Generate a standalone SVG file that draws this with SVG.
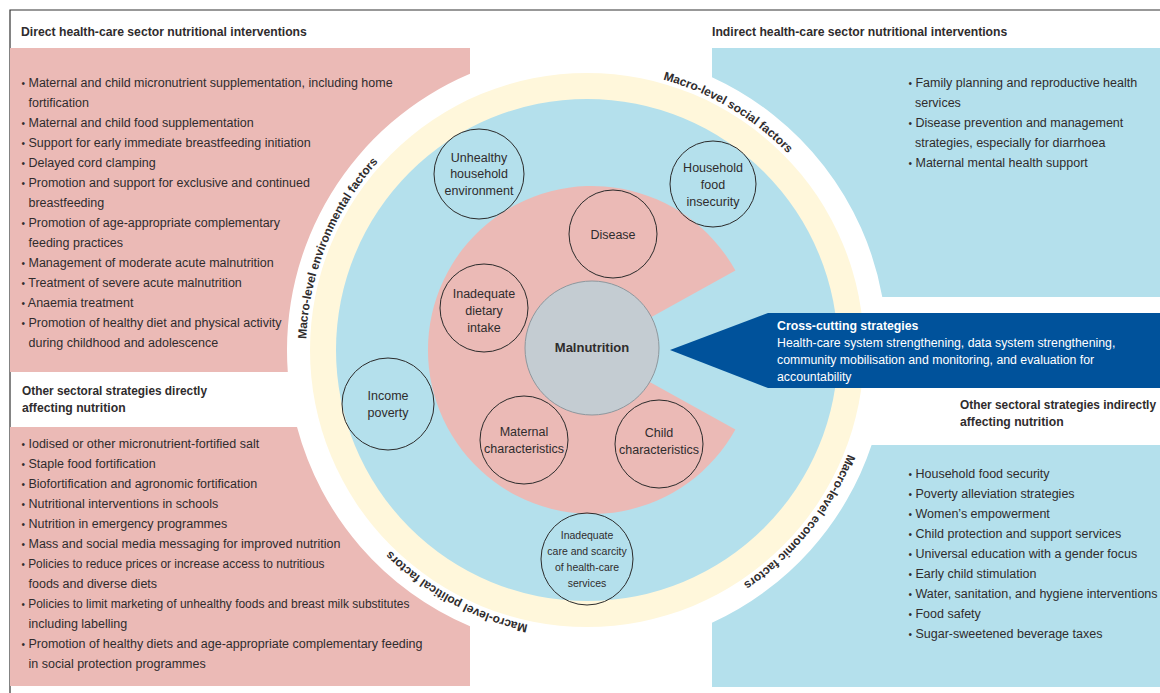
<svg xmlns="http://www.w3.org/2000/svg" width="1160" height="693" viewBox="0 0 1160 693">
<defs>
<style>
text{font-family:"Liberation Sans",Arial,sans-serif;fill:#2f2c2d}
.b{font-size:12.5px}
.d{font-size:10px}
.h{font-size:12.2px;font-weight:bold}
.n{font-size:12.5px;text-anchor:middle}
.s{font-size:10.5px;text-anchor:middle}
.arc{font-size:12px;font-weight:bold;text-anchor:middle}
.pink{fill:#EBBAB6}
.blue{fill:#B4E0EC}
.node{fill:none;stroke:#2b2b2b;stroke-width:1}
.wt{font-size:12.3px;fill:#fff}
</style>
<path id="ringpath" d="M868,350 A281 281 0 1 1 306,350 A281 281 0 1 1 868,350"/>
</defs>
<rect width="1160" height="693" fill="#fff"/>
<path d="M10,693 V10 H1160" fill="none" stroke="#333" stroke-width="1.2"/>

<g id="panels">
<path class="pink" d="M10,48 H470 V73.8 A300 300 0 0 0 287.8,372 H10 Z"/>
<path class="pink" d="M10,427 H297 A300 300 0 0 0 470,626.2 V686 H10 Z"/>
<path class="blue" d="M712,48 H1160 V297 H882.3 A300 300 0 0 0 712,77.3 Z"/>
<path class="blue" d="M871.6,445 H1160 V687 H712 V622.7 A300 300 0 0 0 871.6,445 Z"/>
</g>

<g id="rings">
<circle cx="587" cy="350" r="277" fill="#FFF7DB"/>
<circle cx="587" cy="350" r="251" fill="#B4E0EC"/>
<path d="M592,350 L735.4,270.5 A164 164 0 1 0 735.4,429.5 Z" fill="#EBBAB6"/>
</g>

<g id="ring-labels">
<text class="arc"><textPath href="#ringpath" startOffset="191">Macro-level economic factors</textPath></text>
<text class="arc"><textPath href="#ringpath" startOffset="580">Macro-level political factors</textPath></text>
<text class="arc"><textPath href="#ringpath" startOffset="991">Macro-level environmental factors</textPath></text>
<text class="arc"><textPath href="#ringpath" startOffset="1474">Macro-level social factors</textPath></text>
</g>

<g id="direct-health-care">
<text class="h" x="21" y="36">Direct health-care sector nutritional interventions</text>
<text class="b" x="21.5" y="87"><tspan class="d">•</tspan> Maternal and child micronutrient supplementation, including home</text>
<text class="b" x="28.5" y="107">fortification</text>
<text class="b" x="21.5" y="127"><tspan class="d">•</tspan> Maternal and child food supplementation</text>
<text class="b" x="21.5" y="147"><tspan class="d">•</tspan> Support for early immediate breastfeeding initiation</text>
<text class="b" x="21.5" y="167"><tspan class="d">•</tspan> Delayed cord clamping</text>
<text class="b" x="21.5" y="187"><tspan class="d">•</tspan> Promotion and support for exclusive and continued</text>
<text class="b" x="28.5" y="207">breastfeeding</text>
<text class="b" x="21.5" y="227"><tspan class="d">•</tspan> Promotion of age-appropriate complementary</text>
<text class="b" x="28.5" y="247">feeding practices</text>
<text class="b" x="21.5" y="267"><tspan class="d">•</tspan> Management of moderate acute malnutrition</text>
<text class="b" x="21.5" y="287"><tspan class="d">•</tspan> Treatment of severe acute malnutrition</text>
<text class="b" x="21.5" y="307"><tspan class="d">•</tspan> Anaemia treatment</text>
<text class="b" x="21.5" y="327"><tspan class="d">•</tspan> Promotion of healthy diet and physical activity</text>
<text class="b" x="28.5" y="347">during childhood and adolescence</text>
</g>

<g id="other-direct">
<text class="h" x="22" y="395" textLength="185" lengthAdjust="spacingAndGlyphs">Other sectoral strategies directly</text>
<text class="h" x="22" y="412">affecting nutrition</text>
<text class="b" x="21.5" y="448"><tspan class="d">•</tspan> Iodised or other micronutrient-fortified salt</text>
<text class="b" x="21.5" y="468"><tspan class="d">•</tspan> Staple food fortification</text>
<text class="b" x="21.5" y="488"><tspan class="d">•</tspan> Biofortification and agronomic fortification</text>
<text class="b" x="21.5" y="508"><tspan class="d">•</tspan> Nutritional interventions in schools</text>
<text class="b" x="21.5" y="528"><tspan class="d">•</tspan> Nutrition in emergency programmes</text>
<text class="b" x="21.5" y="548"><tspan class="d">•</tspan> Mass and social media messaging for improved nutrition</text>
<text class="b" x="21.5" y="568" textLength="303" lengthAdjust="spacingAndGlyphs"><tspan class="d">•</tspan> Policies to reduce prices or increase access to nutritious</text>
<text class="b" x="28.5" y="588">foods and diverse diets</text>
<text class="b" x="21.5" y="608" textLength="388" lengthAdjust="spacingAndGlyphs"><tspan class="d">•</tspan> Policies to limit marketing of unhealthy foods and breast milk substitutes</text>
<text class="b" x="28.5" y="628">including labelling</text>
<text class="b" x="21.5" y="648"><tspan class="d">•</tspan> Promotion of healthy diets and age-appropriate complementary feeding</text>
<text class="b" x="28.5" y="668">in social protection programmes</text>
</g>

<g id="indirect-health-care">
<text class="h" x="712" y="36">Indirect health-care sector nutritional interventions</text>
<text class="b" x="908.5" y="87"><tspan class="d">•</tspan> Family planning and reproductive health</text>
<text class="b" x="915" y="107">services</text>
<text class="b" x="908.5" y="127"><tspan class="d">•</tspan> Disease prevention and management</text>
<text class="b" x="915" y="147">strategies, especially for diarrhoea</text>
<text class="b" x="908.5" y="167"><tspan class="d">•</tspan> Maternal mental health support</text>
</g>

<g id="other-indirect">
<text class="h" x="960" y="409" textLength="196" lengthAdjust="spacingAndGlyphs">Other sectoral strategies indirectly</text>
<text class="h" x="960" y="426">affecting nutrition</text>
<text class="b" x="908.5" y="478"><tspan class="d">•</tspan> Household food security</text>
<text class="b" x="908.5" y="498"><tspan class="d">•</tspan> Poverty alleviation strategies</text>
<text class="b" x="908.5" y="518"><tspan class="d">•</tspan> Women’s empowerment</text>
<text class="b" x="908.5" y="538"><tspan class="d">•</tspan> Child protection and support services</text>
<text class="b" x="908.5" y="558"><tspan class="d">•</tspan> Universal education with a gender focus</text>
<text class="b" x="908.5" y="578"><tspan class="d">•</tspan> Early child stimulation</text>
<text class="b" x="908.5" y="598"><tspan class="d">•</tspan> Water, sanitation, and hygiene interventions</text>
<text class="b" x="908.5" y="618"><tspan class="d">•</tspan> Food safety</text>
<text class="b" x="908.5" y="638"><tspan class="d">•</tspan> Sugar-sweetened beverage taxes</text>
</g>

<g id="cross-cutting">
<polygon points="670,350 768,313 1160,313 1160,388 768,388" fill="#00529B"/>
<text class="wt" x="777" y="329.5" style="font-weight:bold">Cross-cutting strategies</text>
<text class="wt" x="777" y="346.5">Health-care system strengthening, data system strengthening,</text>
<text class="wt" x="777" y="363.5">community mobilisation and monitoring, and evaluation for</text>
<text class="wt" x="777" y="380.5">accountability</text>
</g>

<g id="node-unhealthy">
<circle class="node" cx="479" cy="174" r="45"/>
<text class="n" x="479" y="161.5">Unhealthy</text>
<text class="n" x="479" y="178">household</text>
<text class="n" x="479" y="194.5">environment</text>
</g>
<g id="node-food-insecurity">
<circle class="node" cx="713" cy="184" r="43"/>
<text class="n" x="713" y="171.5">Household</text>
<text class="n" x="713" y="188.5">food</text>
<text class="n" x="713" y="205.5">insecurity</text>
</g>
<g id="node-disease">
<circle class="node" cx="613" cy="234" r="44"/>
<text class="n" x="613" y="238.5">Disease</text>
</g>
<g id="node-dietary">
<circle class="node" cx="484" cy="308" r="44"/>
<text class="n" x="484" y="297.5">Inadequate</text>
<text class="n" x="484" y="314.5">dietary</text>
<text class="n" x="484" y="331.5">intake</text>
</g>
<g id="node-malnutrition">
<circle cx="592" cy="348" r="67" fill="#C4CCD2" stroke="#8E979D" stroke-width="1"/>
<text class="n" x="592" y="352" style="font-size:13px;font-weight:bold">Malnutrition</text>
</g>
<g id="node-income">
<circle class="node" cx="388" cy="404" r="46"/>
<text class="n" x="388" y="399.5">Income</text>
<text class="n" x="388" y="416.5">poverty</text>
</g>
<g id="node-maternal">
<circle class="node" cx="524" cy="440" r="44"/>
<text class="n" x="524" y="435.5">Maternal</text>
<text class="n" x="524" y="452.5">characteristics</text>
</g>
<g id="node-child">
<circle class="node" cx="659" cy="444" r="44"/>
<text class="n" x="659" y="436.5">Child</text>
<text class="n" x="659" y="453.5">characteristics</text>
</g>
<g id="node-care">
<circle class="node" cx="587" cy="559" r="46"/>
<text class="s" x="587" y="539">Inadequate</text>
<text class="s" x="587" y="555">care and scarcity</text>
<text class="s" x="587" y="571">of health-care</text>
<text class="s" x="587" y="587">services</text>
</g>
<g id="connectors"></g>
</svg>
